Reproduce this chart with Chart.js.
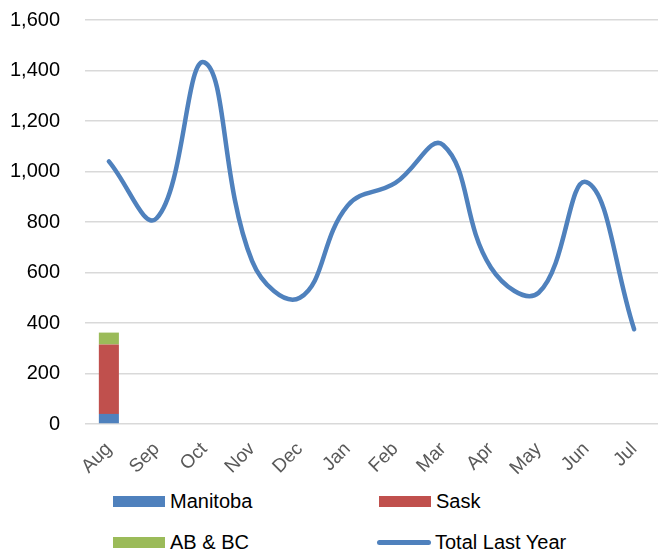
<!DOCTYPE html>
<html>
<head>
<meta charset="utf-8">
<script src="https://cdn.jsdelivr.net/npm/chart.js@4/dist/chart.umd.min.js"></script>
<style>
  body { margin: 0; background: #fff; font-family: "Liberation Sans", Arial, sans-serif; }
  #wrap { position: relative; width: 658px; height: 555px; }
  #chartBox { position: absolute; left: 0; top: 0; width: 658px; height: 476px; }
  .leg { position: absolute; font-size: 20px; line-height: 23px; color: #000; display: flex; align-items: center; }
  .sw { width: 52px; height: 11px; margin-right: 5px; }
  .ln { width: 54px; height: 5px; border-radius: 3px; margin-right: 4px; }
</style>
</head>
<body>
<div id="wrap">
  <div id="chartBox"><canvas id="myChart"></canvas></div>
  <div id="legend"></div>
</div>
<script>
const months = ['Aug', 'Sep', 'Oct', 'Nov', 'Dec', 'Jan', 'Feb', 'Mar', 'Apr', 'May', 'Jun', 'Jul']
const manitoba = [40, null, null, null, null, null, null, null, null, null, null, null]
const sask = [275, null, null, null, null, null, null, null, null, null, null, null]
const abbc = [47, null, null, null, null, null, null, null, null, null, null, null]
const totalLastYear = [1040, 815, 1432, 645, 500, 865, 955, 1105, 620, 520, 958, 375]

const colors = {
  manitoba: '#4F81BD',
  sask: '#C0504D',
  abbc: '#9BBB59',
  total: '#4F81BD'
}

const ctx = document.getElementById('myChart').getContext('2d')
const myChart = new Chart(ctx, {
  type: 'bar',
  data: {
    labels: months,
    datasets: [
      { label: 'Manitoba', data: manitoba, backgroundColor: colors.manitoba, stack: 'bars', order: 1 },
      { label: 'Sask', data: sask, backgroundColor: colors.sask, stack: 'bars', order: 1 },
      { label: 'AB & BC', data: abbc, backgroundColor: colors.abbc, stack: 'bars', order: 1 },
      {
        type: 'line',
        label: 'Total Last Year',
        data: totalLastYear,
        borderColor: colors.total,
        borderWidth: 4.5,
        tension: 0.42,
        pointRadius: 0,
        borderCapStyle: 'round',
        fill: false,
        stack: 'line',
        order: 0
      }
    ]
  },
  options: {
    responsive: true,
    maintainAspectRatio: false,
    animation: false,
    layout: { padding: { top: 20, right: 0, left: 0, bottom: 0 } },
    plugins: {
      legend: { display: false },
      tooltip: { enabled: false }
    },
    datasets: {
      bar: { categoryPercentage: 1, barPercentage: 0.42 }
    },
    scales: {
      x: {
        stacked: true,
        grid: { display: false },
        border: { display: false },
        ticks: {
          color: '#595959',
          font: { family: 'Liberation Sans', size: 19 },
          minRotation: 45,
          maxRotation: 45,
          padding: 6
        },
        afterFit: s => {
          s.paddingLeft = 0
          s.paddingRight = 0
          s.height = 52
        }
      },
      y: {
        stacked: true,
        min: 0,
        max: 1600,
        grid: { color: '#d9d9d9', lineWidth: 1.5, drawTicks: false },
        border: { display: false },
        ticks: {
          stepSize: 200,
          color: '#000',
          font: { family: 'Liberation Sans', size: 20 },
          padding: 25
        },
        afterFit: s => {
          s.width = 85
          s.paddingTop = 0
          s.paddingBottom = 0
        }
      }
    }
  }
})

// two-column legend below the chart
const legendItems = [
  { label: 'Manitoba', color: colors.manitoba, kind: 'sw', x: 113, y: 490 },
  { label: 'Sask', color: colors.sask, kind: 'sw', x: 379, y: 490 },
  { label: 'AB & BC', color: colors.abbc, kind: 'sw', x: 113, y: 531 },
  { label: 'Total Last Year', color: colors.total, kind: 'ln', x: 377, y: 531 }
]
const legendEl = document.getElementById('legend')
legendItems.forEach(it => {
  const d = document.createElement('div')
  d.className = 'leg'
  d.style.left = it.x + 'px'
  d.style.top = it.y + 'px'
  d.innerHTML = '<span class="' + it.kind + '" style="background:' + it.color + '"></span>' + it.label
  legendEl.appendChild(d)
})
</script>
</body>
</html>
